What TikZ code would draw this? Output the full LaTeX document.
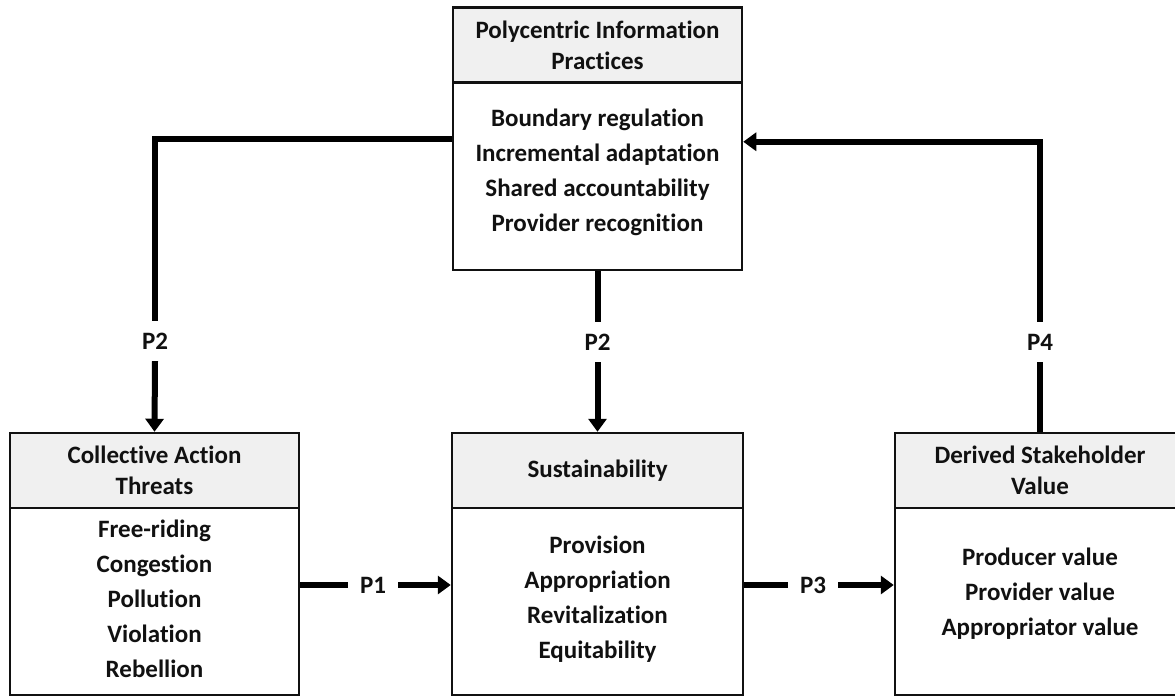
\documentclass[tikz,border=0pt]{standalone}
\usepackage{fontspec}
\setmainfont{Carlito}[Ligatures={NoCommon}]
\usetikzlibrary{arrows.meta}
\definecolor{hdrgray}{HTML}{F0F0F0}
\definecolor{ink}{HTML}{111111}
\newcommand{\hdrfnt}{\fontsize{25}{31}\selectfont\bfseries}
\newcommand{\bodyfnt}{\fontsize{25}{35}\selectfont\bfseries}
\begin{document}
\begin{tikzpicture}[x=1pt,y=-1pt,
  hdrbox/.style={draw=ink, line width=2.5pt, fill=hdrgray, minimum width=289pt, minimum height=75pt, inner sep=0pt, align=center, font=\hdrfnt, text=ink},
  bodybox/.style={draw=ink, line width=2.5pt, fill=white, minimum width=289pt, minimum height=187pt, inner sep=0pt},
  bodytext/.style={align=center, font=\bodyfnt, inner sep=0pt, text=ink},
  conn/.style={draw=black, line width=6pt},
  arr/.style={-{Triangle[width=18pt,length=13pt]}},
  plabel/.style={fill=white, inner xsep=12pt, inner ysep=0pt, minimum height=40pt, font=\bodyfnt, text=ink}]
\useasboundingbox[fill=white] (0,0) rectangle (1175,696);

% top box
\node[bodybox] (tb) at (597.5,176.5) {};
\node[hdrbox] (th) at (597.5,45) {Polycentric Information\\Practices};
\node[bodytext] (tt) at (597.5,172) {Boundary regulation\\Incremental adaptation\\Shared accountability\\Provider recognition};

% left box
\node[bodybox] (lb) at (154.5,601.5) {};
\node[hdrbox] (lh) at (154.5,470.5) {Collective Action\\Threats};
\node[bodytext] (lt) at (154.5,599) {Free-riding\\Congestion\\Pollution\\Violation\\Rebellion};

% middle box
\node[bodybox, minimum width=291pt] (sb) at (597.5,601.5) {};
\node[hdrbox, minimum width=291pt] (sh) at (597.5,470.5) {Sustainability};
\node[bodytext] (st) at (597.5,599) {Provision\\Appropriation\\Revitalization\\Equitability};

% right box
\node[bodybox, minimum width=290pt] (db) at (1040,601.5) {};
\node[hdrbox, minimum width=290pt] (dh) at (1040,470.5) {Derived Stakeholder\\Value};
\node[bodytext] (dt) at (1040,594) {Producer value\\Provider value\\Appropriator value};

% labels
\node[plabel] (p2a) at (155,341) {P2};
\node[plabel] (p2b) at (597.5,342) {P2};
\node[plabel] (p4) at (1040,342) {P4};
\node[plabel] (p1) at (373,585) {P1};
\node[plabel] (p3) at (813,585) {P3};

% connectors
\draw[conn] ([yshift=-57pt]tb.north west) -| (p2a.north);
\draw[conn,arr] (p2a.south) -- (lh.north);
\draw[conn] (tb.south) -- (p2b.north);
\draw[conn,arr] (p2b.south) -- (sh.north);
\draw[conn] (dh.north) -- (p4.south);
\draw[conn,arr] (p4.north) |- ([yshift=-60pt]tb.north east);
\draw[conn] (lb.east |- p1) -- (p1.west);
\draw[conn,arr] (p1.east) -- (sb.west |- p1);
\draw[conn] (sb.east |- p3) -- (p3.west);
\draw[conn,arr] (p3.east) -- (db.west |- p3);
\end{tikzpicture}
\end{document}
